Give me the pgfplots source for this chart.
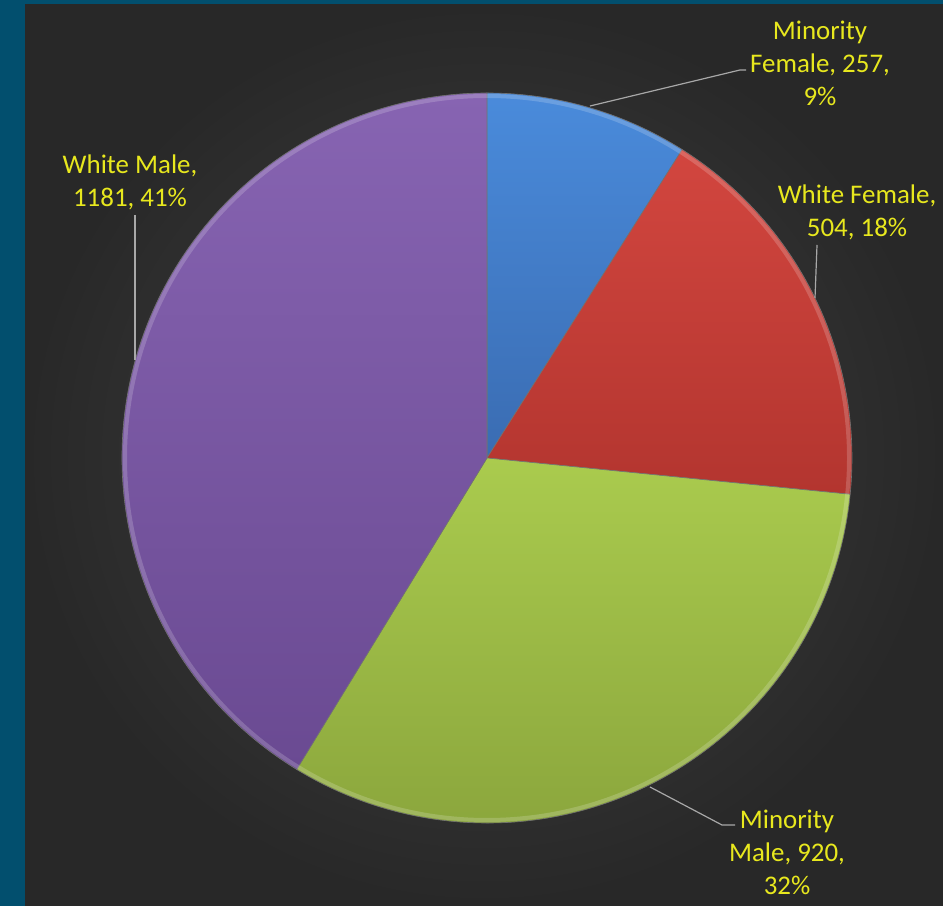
\documentclass[border=0pt]{standalone}
\usepackage{pgfplots}
\pgfplotsset{compat=1.18}
\usepackage{pgfplotstable}
\usepackage{fontspec}
\setmainfont{Carlito}

\definecolor{frameblue}{HTML}{024F6E}
\definecolor{bgin}{HTML}{434343}
\definecolor{bgout}{HTML}{282828}
\definecolor{lblyellow}{HTML}{E8E81E}
\definecolor{leader}{HTML}{A8A8A8}
\definecolor{mfTop}{HTML}{4A8BDB}\definecolor{mfBot}{HTML}{3A6CB2}
\definecolor{wfTop}{HTML}{D2463F}\definecolor{wfBot}{HTML}{B3352F}
\definecolor{mmTop}{HTML}{AACB4E}\definecolor{mmBot}{HTML}{8AA53C}
\definecolor{wmTop}{HTML}{8764B2}\definecolor{wmBot}{HTML}{6A4A92}

\tikzset{lbl/.style={font=\fontsize{27}{33}\selectfont, text=lblyellow, align=center, inner sep=0pt}}

% counts, in the order the slices run clockwise from 12 o'clock
\pgfplotstableread{
group count
MinorityFemale 257
WhiteFemale 504
MinorityMale 920
WhiteMale 1181
}\piedata

\begin{document}
\begin{tikzpicture}
\pgfplotstablegetelem{0}{count}\of\piedata \let\cA\pgfplotsretval
\pgfplotstablegetelem{1}{count}\of\piedata \let\cB\pgfplotsretval
\pgfplotstablegetelem{2}{count}\of\piedata \let\cC\pgfplotsretval
\pgfplotstablegetelem{3}{count}\of\piedata \let\cD\pgfplotsretval
\pgfmathsetmacro{\tot}{\cA+\cB+\cC+\cD}
\pgfmathsetmacro{\aA}{90}
\pgfmathsetmacro{\aB}{90-360*(\cA/\tot)}
\pgfmathsetmacro{\aC}{\aB-360*(\cB/\tot)}
\pgfmathsetmacro{\aD}{\aC-360*(\cC/\tot)}
\pgfmathsetmacro{\aE}{\aD-360*(\cD/\tot)}
\def\cx{487}\def\cy{448}\def\R{365}
\begin{axis}[
    scale only axis,
    width=943bp, height=906bp,
    xmin=0, xmax=943, ymin=0, ymax=906,
    hide axis, clip=false,
]
    % background
    \fill[frameblue] (axis cs:0,0) rectangle (axis cs:943,906);
    \shade[inner color=bgin, outer color=bgout] (axis cs:25,0) rectangle (axis cs:943,901);

    % slices
    \shade[top color=mfTop, bottom color=mfBot, draw=black!55, line width=0.6pt]
        (axis cs:\cx,\cy) -- ++({\R*cos(\aA)*1bp},{\R*sin(\aA)*1bp})
        arc[start angle=\aA, end angle=\aB, radius=\R bp] -- cycle;
    \shade[top color=wfTop, bottom color=wfBot, draw=black!55, line width=0.6pt]
        (axis cs:\cx,\cy) -- ++({\R*cos(\aB)*1bp},{\R*sin(\aB)*1bp})
        arc[start angle=\aB, end angle=\aC, radius=\R bp] -- cycle;
    \shade[top color=mmTop, bottom color=mmBot, draw=black!55, line width=0.6pt]
        (axis cs:\cx,\cy) -- ++({\R*cos(\aC)*1bp},{\R*sin(\aC)*1bp})
        arc[start angle=\aC, end angle=\aD, radius=\R bp] -- cycle;
    \shade[top color=wmTop, bottom color=wmBot, draw=black!55, line width=0.6pt]
        (axis cs:\cx,\cy) -- ++({\R*cos(\aD)*1bp},{\R*sin(\aD)*1bp})
        arc[start angle=\aD, end angle=\aE, radius=\R bp] -- cycle;
    % soft rim highlight
    \draw[white, opacity=0.18, line width=4pt]
        (axis cs:\cx,\cy) ++({(\R-3)*cos(\aA)*1bp},{(\R-3)*sin(\aA)*1bp})
        arc[start angle=\aA, end angle=\aA+360, radius=(\R-3)*1bp];

    % leader lines
    \addplot[leader, line width=1.2pt, no marks] coordinates {(590,800) (740,836) (746,836)};
    \addplot[leader, line width=1.2pt, no marks] coordinates {(817,661) (815,608)};
    \addplot[leader, line width=1.2pt, no marks] coordinates {(135,691) (135,546)};
    \addplot[leader, line width=1.2pt, no marks] coordinates {(650,119) (722,81) (735,81)};

    % data labels
    \node[lbl] at (axis cs:820,843) {Minority\\Female, 257,\\9\%};
    \node[lbl] at (axis cs:857,694) {White Female,\\504, 18\%};
    \node[lbl] at (axis cs:130,724) {White Male,\\1181, 41\%};
    \node[lbl] at (axis cs:787,54) {Minority\\Male, 920,\\32\%};
\end{axis}
\end{tikzpicture}
\end{document}
